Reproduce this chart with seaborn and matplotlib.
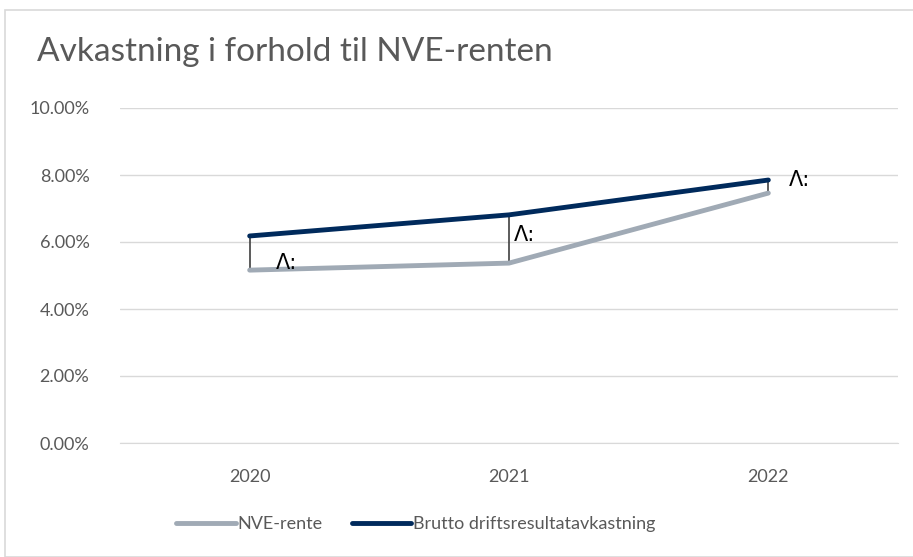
import numpy as np
import pandas as pd
import matplotlib
matplotlib.use("Agg")
import matplotlib.pyplot as plt
import seaborn as sns
from matplotlib.patches import Rectangle
from matplotlib.lines import Line2D
from matplotlib.ticker import PercentFormatter

years = ["2020", "2021", "2022"]
nve_rente = [0.0516, 0.0537, 0.0746]
brutto = [0.0618, 0.0681, 0.0785]
series_names = ["NVE-rente", "Brutto driftsresultatavkastning"]
gap_labels = ["Λ:", "Λ:", "Λ:"]

sns.set_style("white")
plt.rcParams['font.family'] = ['Lato', 'DejaVu Sans']

df = pd.DataFrame({
    "year": years * 2,
    "value": nve_rente + brutto,
    "series": [series_names[0]] * 3 + [series_names[1]] * 3,
})

fig = plt.figure(figsize=(9.13, 5.57), dpi=100)
ax = fig.add_axes([120 / 913, 1 - 443 / 557, 778 / 913, 335 / 557])

# chart area border
fig.patches.append(Rectangle((5 / 913, 0), 1, 1 - 10 / 557, transform=fig.transFigure,
                             fill=False, edgecolor='#d9d9d9', lw=1.2))

palette = {series_names[0]: '#a0aab5', series_names[1]: '#002a5c'}
sns.lineplot(data=df, x="year", y="value", hue="series", palette=palette,
             linewidth=3.5, ax=ax, solid_capstyle='round', legend=False, zorder=3)

# high-low lines
xs = np.arange(len(years))
ax.vlines(xs, nve_rente, brutto, color='#404040', lw=1.2, zorder=2)

# labels next to the gaps
label_pos = [(0.1, nve_rente[0] + 0.0020), (0.02, (nve_rente[1] + brutto[1]) / 2 + 0.0012),
             (0.08, brutto[2])]
for lab, (dx, y), x in zip(gap_labels, label_pos, xs):
    ax.text(x + dx, y, lab, fontsize=15, color='black',
            va='center', ha='left', family=['DejaVu Sans'])

ax.set_xlim(-0.5, 2.5)
ax.set_ylim(0, 0.10)
ax.set_yticks(np.arange(0, 0.101, 0.02))
ax.yaxis.set_major_formatter(PercentFormatter(1.0, decimals=2))
ax.grid(axis='y', color='#d9d9d9', lw=1)
for s in ['top', 'right', 'left']:
    ax.spines[s].set_visible(False)
ax.spines['bottom'].set_color('#d9d9d9')
ax.tick_params(axis='both', length=0, labelsize=13, colors='#595959')
ax.tick_params(axis='y', pad=22)
ax.tick_params(axis='x', pad=19)
ax.set_xlabel('')
ax.set_ylabel('')

fig.text(37 / 913, 1 - 52 / 557, "Avkastning i forhold til NVE-renten",
         fontsize=24, color='#595959', va='center', ha='left')

# legend
handles = [Line2D([0], [0], color=palette[n], lw=3.5, solid_capstyle='round') for n in series_names]
fig.legend(handles, series_names, loc='center', bbox_to_anchor=(416 / 913, 1 - 524 / 557),
           ncol=2, frameon=False, fontsize=13, labelcolor='#595959',
           handlelength=3.3, handletextpad=0.1, columnspacing=1.6)

fig.savefig("out.png", dpi=100)
